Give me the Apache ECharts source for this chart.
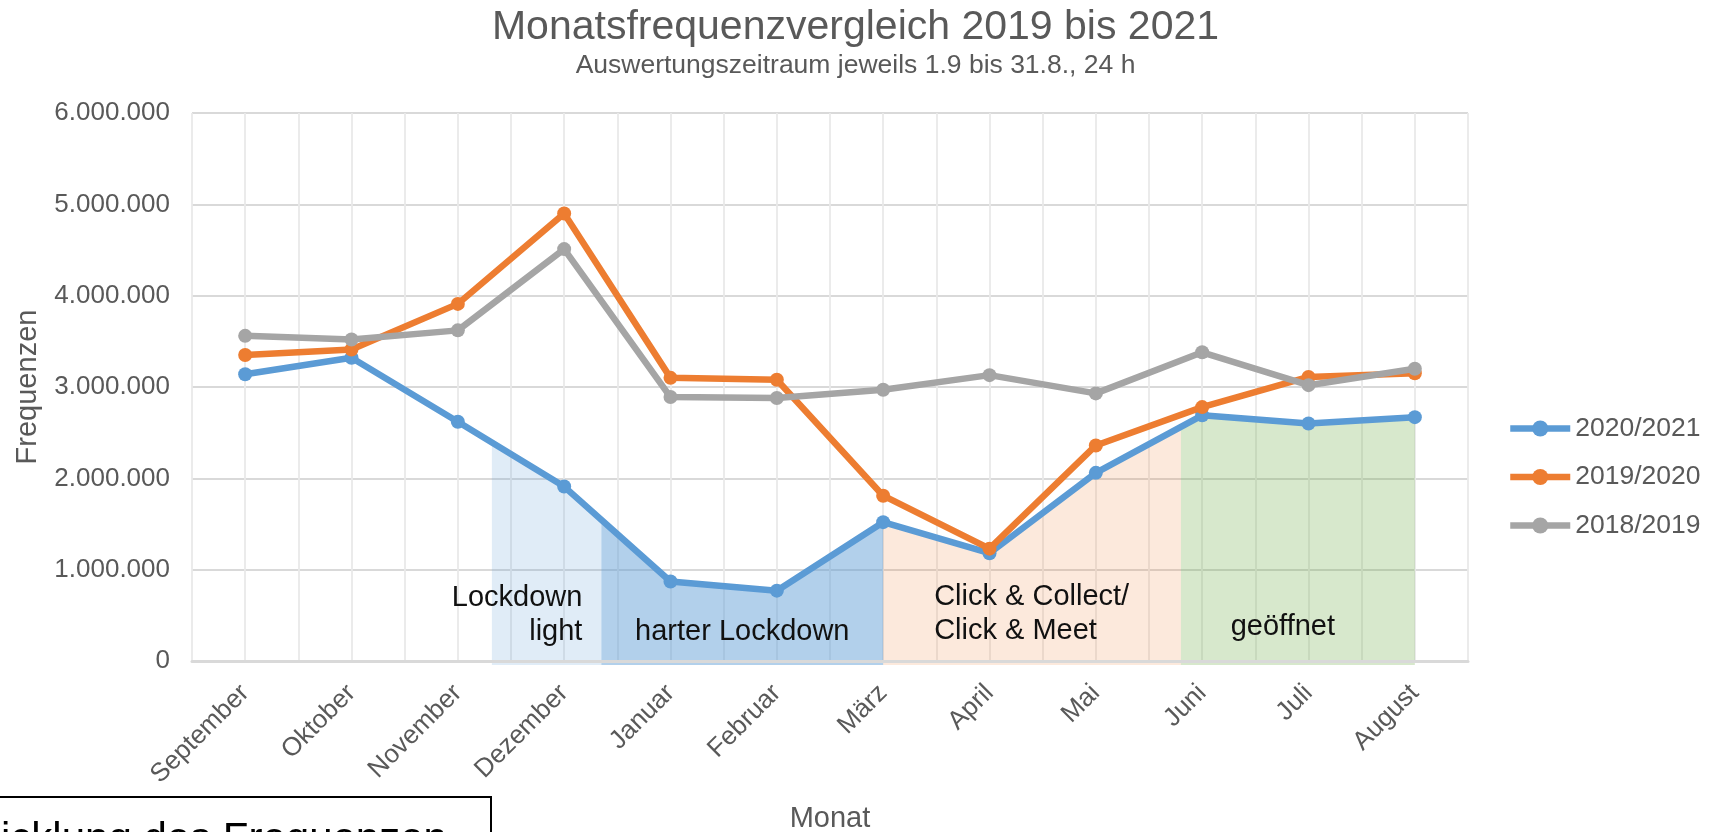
<!DOCTYPE html>
<html>
<head>
<meta charset="utf-8">
<script src="https://cdn.jsdelivr.net/npm/echarts@6/dist/echarts.min.js"></script>
<style>
  html, body { margin: 0; padding: 0; background: #ffffff; }
  #chart { width: 1711px; height: 832px; }
</style>
</head>
<body>
<div id="chart"></div>
<script>
// ---- data ----
const months = ['September', 'Oktober', 'November', 'Dezember', 'Januar', 'Februar', 'März', 'April', 'Mai', 'Juni', 'Juli', 'August'];
const seriesNames = ['2020/2021', '2019/2020', '2018/2019'];
const values2020_2021 = [3140000, 3320000, 2620000, 1910000, 870000, 770000, 1520000, 1180000, 2060000, 2690000, 2600000, 2670000];
const values2019_2020 = [3350000, 3410000, 3910000, 4900000, 3100000, 3080000, 1810000, 1230000, 2360000, 2780000, 3110000, 3150000];
const values2018_2019 = [3560000, 3520000, 3620000, 4510000, 2890000, 2880000, 2970000, 3130000, 2930000, 3380000, 3020000, 3200000];
// phases (in month positions, September = 0)
const phaseNames = ['Lockdown\nlight', 'harter Lockdown', 'Click & Collect/\nClick & Meet', 'geöffnet'];
const phaseStart = [2.32, 3.35, 6.0, 8.8];
const phaseEnd = [3.35, 6.0, 8.8, 11.0];
const yMin = 0, yMax = 6000000, yStep = 1000000;
const titleText = 'Monatsfrequenzvergleich 2019 bis 2021';
const subtitleText = 'Auswertungszeitraum jeweils 1.9 bis 31.8., 24 h';
const xName = 'Monat';
const yName = 'Frequenzen';
const boxText = 'icklung des Frequenzen';

// ---- styles ----
const FONT = '"Liberation Sans", Arial, sans-serif';
const TXT = '#595959';
const colors = ['#5B9BD5', '#ED7D31', '#A5A5A5'];
const phaseStyles = [
  { fill: 'rgba(91,155,213,0.19)', align: 'right', dx: -19, dy: -46, lh: 34 },
  { fill: 'rgba(91,155,213,0.47)', align: 'center', dx: 0, dy: -29, lh: 34 },
  { fill: 'rgba(237,125,49,0.17)', align: 'left', dx: 51, dy: -47, lh: 34 },
  { fill: 'rgba(112,173,71,0.28)', align: 'center', dx: -15, dy: -34, lh: 34 }
];

function fmt(v) {
  return String(Math.round(v)).replace(/\B(?=(\d{3})+(?!\d))/g, '.');
}
function lineAt(x) {
  const i = Math.min(Math.floor(x), values2020_2021.length - 2);
  const t = x - i;
  return values2020_2021[i] + (values2020_2021[i + 1] - values2020_2021[i]) * t;
}

const chart = echarts.init(document.getElementById('chart'), null, { renderer: 'canvas' });

const lineSeries = [values2020_2021, values2019_2020, values2018_2019].map((vals, k) => ({
  name: seriesNames[k],
  type: 'line',
  xAxisIndex: 0,
  yAxisIndex: 0,
  data: vals,
  symbol: 'circle',
  symbolSize: 14,
  showSymbol: true,
  lineStyle: { width: 6.5, color: colors[k] },
  itemStyle: { color: colors[k] },
  z: 10 + k,
  animation: false
}));

const phaseSeries = {
  type: 'custom',
  xAxisIndex: 1,
  yAxisIndex: 0,
  z: 3,
  silent: true,
  animation: false,
  data: phaseNames.map((n, i) => [phaseStart[i], phaseEnd[i], i]),
  renderItem: function (params, api) {
    const i = params.dataIndex;
    const x0 = phaseStart[i], x1 = phaseEnd[i];
    const st = phaseStyles[i];
    const pts = [];
    pts.push(api.coord([x0, lineAt(x0)]));
    for (let m = Math.ceil(x0 + 1e-6); m < x1 - 1e-6; m++) {
      pts.push(api.coord([m, values2020_2021[m]]));
    }
    pts.push(api.coord([x1, lineAt(x1)]));
    const b1 = api.coord([x1, yMin]);
    const b0 = api.coord([x0, yMin]);
    pts.push([b1[0], b1[1] + 4]);
    pts.push([b0[0], b0[1] + 4]);
    let tx;
    if (st.align === 'right') tx = b1[0] + st.dx;
    else if (st.align === 'left') tx = b0[0] + st.dx;
    else tx = (b0[0] + b1[0]) / 2 + st.dx;
    return {
      type: 'group',
      children: [
        { type: 'polygon', shape: { points: pts }, style: { fill: st.fill }, z2: 1 },
        {
          type: 'text', z2: 2,
          style: {
            text: phaseNames[i], x: tx, y: b0[1] + st.dy,
            align: st.align, verticalAlign: 'middle',
            font: '29px ' + FONT, fill: '#111111', lineHeight: st.lh
          }
        }
      ]
    };
  }
};

chart.setOption({
  backgroundColor: '#ffffff',
  animation: false,
  textStyle: { fontFamily: FONT },
  title: {
    text: titleText,
    subtext: subtitleText,
    left: 'center',
    top: 2,
    itemGap: 4,
    textStyle: { fontFamily: FONT, fontSize: 41, fontWeight: 'normal', color: TXT },
    subtextStyle: { fontFamily: FONT, fontSize: 26.5, color: TXT }
  },
  legend: {
    orient: 'vertical',
    left: 1507,
    top: 415,
    itemWidth: 60,
    itemHeight: 20,
    itemGap: 21.5,
    padding: 0,
    data: seriesNames,
    lineStyle: { width: 6.5 },
    textStyle: { fontFamily: FONT, fontSize: 26.5, color: TXT }
  },
  grid: { left: 192, right: 243, top: 113, bottom: 171, containLabel: false, outerBoundsMode: 'none' },
  xAxis: [
    {
      type: 'category',
      data: months,
      boundaryGap: true,
      axisLine: { show: true, lineStyle: { color: '#D9D9D9', width: 3 } },
      axisTick: { show: false },
      axisLabel: { rotate: 45, fontSize: 26, color: TXT, fontFamily: FONT, margin: 28, interval: 0 },
      splitLine: { show: false },
      name: xName,
      nameLocation: 'middle',
      nameGap: 143,
      nameTextStyle: { fontSize: 29, color: TXT, fontFamily: FONT },
      z: 5
    },
    {
      type: 'value',
      min: -0.5,
      max: 11.5,
      interval: 0.5,
      show: true,
      position: 'top',
      axisLine: { show: false },
      axisTick: { show: false },
      axisLabel: { show: false },
      splitLine: { show: true, lineStyle: { color: '#E9E9E9', width: 1.8 } }
    }
  ],
  yAxis: {
    type: 'value',
    min: yMin,
    max: yMax,
    interval: yStep,
    axisLine: { show: false },
    axisTick: { show: false },
    axisLabel: { fontSize: 26, color: TXT, fontFamily: FONT, margin: 22, formatter: fmt },
    splitLine: { show: true, lineStyle: { color: '#D9D9D9', width: 2.2 } },
    name: yName,
    nameLocation: 'middle',
    nameGap: 150,
    nameTextStyle: { fontSize: 29, color: TXT, fontFamily: FONT }
  },
  graphic: [
    {
      type: 'rect',
      shape: { x: -3, y: 797, width: 494, height: 80 },
      style: { fill: '#ffffff', stroke: '#000000', lineWidth: 2 },
      z: 100
    },
    {
      type: 'text',
      x: 1,
      y: 819,
      style: { text: boxText, font: '42px ' + FONT, fill: '#000000', verticalAlign: 'top' },
      z: 101
    }
  ],
  series: [phaseSeries].concat(lineSeries)
});
</script>
</body>
</html>
